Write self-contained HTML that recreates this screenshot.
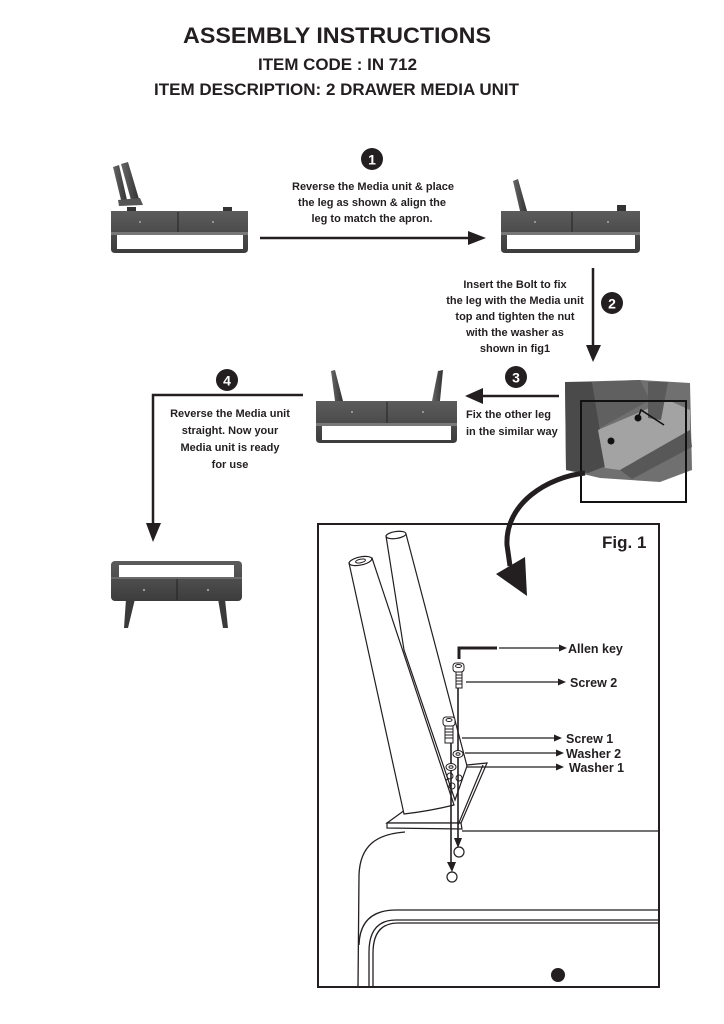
<!DOCTYPE html>
<html>
<head>
<meta charset="utf-8">
<style>
html,body{margin:0;padding:0;background:#fff;}
svg{display:block;}
text{font-family:"Liberation Sans",Arial,sans-serif;font-weight:bold;fill:#231f20;}
.st{font-size:11px;}
.lbl{font-size:12.5px;}
</style>
</head>
<body>
<svg width="724" height="1024" viewBox="0 0 724 1024" xmlns="http://www.w3.org/2000/svg">
<defs>
<linearGradient id="wood" x1="0" y1="0" x2="0" y2="1">
<stop offset="0" stop-color="#5c5c5c"/>
<stop offset="1" stop-color="#3c3c3c"/>
</linearGradient>
<linearGradient id="leg" x1="0" y1="0" x2="1" y2="0">
<stop offset="0" stop-color="#666"/>
<stop offset="1" stop-color="#333"/>
</linearGradient>
</defs>
<rect width="724" height="1024" fill="#fff"/>

<!-- Titles -->
<text x="183" y="43" font-size="22" textLength="308" lengthAdjust="spacingAndGlyphs">ASSEMBLY INSTRUCTIONS</text>
<text x="258" y="70" font-size="17" textLength="159" lengthAdjust="spacingAndGlyphs">ITEM CODE : IN 712</text>
<text x="154" y="95" font-size="17" textLength="365" lengthAdjust="spacingAndGlyphs">ITEM DESCRIPTION: 2 DRAWER MEDIA UNIT</text>

<!-- ===== Step 1 ===== -->
<!-- left unit -->
<g>
<polygon points="113,167 119,165 127,200 121,200" fill="url(#leg)"/>
<polygon points="121,164 128,162 139,199 131,200" fill="url(#leg)"/>
<polygon points="118,200 140,198 143,205 119,206" fill="#555"/>
<rect x="127" y="207" width="9" height="5" fill="#333"/>
<rect x="223" y="207" width="9" height="5" fill="#333"/>
<path d="M111 211 H248 V249 Q248 253 244 253 H115 Q111 253 111 249 Z" fill="url(#wood)"/>
<rect x="111" y="232" width="137" height="3" fill="#777"/>
<rect x="117" y="235" width="126" height="14" fill="#fff"/>
<line x1="178" y1="212" x2="178" y2="232" stroke="#222" stroke-width="1"/>
<circle cx="140" cy="222" r="1" fill="#aaa"/>
<circle cx="213" cy="222" r="1" fill="#aaa"/>
</g>
<!-- arrow 1 -->
<line x1="260" y1="238" x2="472" y2="238" stroke="#231f20" stroke-width="2.5"/>
<polygon points="468,231 486,238 468,245" fill="#231f20"/>
<circle cx="372" cy="159" r="11" fill="#231f20"/>
<text x="372" y="164.5" font-size="14" text-anchor="middle" style="fill:#fff">1</text>
<text class="st" x="373" y="190" text-anchor="middle">Reverse the Media unit &amp; place</text>
<text class="st" x="372" y="206" text-anchor="middle">the leg as shown &amp; align the</text>
<text class="st" x="372" y="222" text-anchor="middle">leg to match the apron.</text>
<!-- right unit -->
<g>
<polygon points="513,181 518,179 527,211 520,211" fill="url(#leg)"/>
<rect x="617" y="205" width="9" height="6" fill="#333"/>
<path d="M501 211 H640 V249 Q640 253 636 253 H505 Q501 253 501 249 Z" fill="url(#wood)"/>
<rect x="501" y="232" width="139" height="3" fill="#777"/>
<rect x="507" y="235" width="128" height="14" fill="#fff"/>
<line x1="572" y1="212" x2="572" y2="232" stroke="#222" stroke-width="1"/>
<circle cx="535" cy="222" r="1" fill="#aaa"/>
<circle cx="608" cy="222" r="1" fill="#aaa"/>
</g>

<!-- ===== Step 2 ===== -->
<line x1="593" y1="268" x2="593" y2="348" stroke="#231f20" stroke-width="2.5"/>
<polygon points="586,345 601,345 593,362" fill="#231f20"/>
<circle cx="612" cy="303" r="11" fill="#231f20"/>
<text x="612" y="308.5" font-size="14" text-anchor="middle" style="fill:#fff">2</text>
<text class="st" x="515" y="288" text-anchor="middle">Insert the Bolt to fix</text>
<text class="st" x="515" y="304" text-anchor="middle">the leg with the Media unit</text>
<text class="st" x="515" y="320" text-anchor="middle">top and tighten the nut</text>
<text class="st" x="515" y="336" text-anchor="middle">with the washer as</text>
<text class="st" x="515" y="352" text-anchor="middle">shown in fig1</text>

<!-- photo -->
<g>
<polygon points="565,382 640,380 690,383 692,470 660,482 600,478 566,470" fill="#707070"/>
<polygon points="565,382 592,382 606,466 588,473 566,470" fill="#4a4a4a"/>
<polygon points="592,382 640,380 650,400 600,428" fill="#606060"/>
<polygon points="598,430 668,400 690,410 690,430 620,470 605,468" fill="#a3a3a3"/>
<polygon points="620,470 690,430 692,447 632,479" fill="#585858"/>
<polygon points="648,382 668,382 661,420 648,418" fill="#5a5a5a"/>
<circle cx="611" cy="441" r="3.5" fill="#111"/>
<circle cx="638" cy="418" r="3.5" fill="#111"/>
<polyline points="638,418 641,410 664,425" fill="none" stroke="#111" stroke-width="1.6"/>
</g>
<rect x="581" y="401" width="105" height="101" fill="none" stroke="#111" stroke-width="2"/>
<!-- curved arrow -->
<path d="M585 473 C548 477 505 503 507 545 L510 566" fill="none" stroke="#231f20" stroke-width="5"/>
<polygon points="496,574 525,557 527,596" fill="#231f20"/>

<!-- ===== Step 3 ===== -->
<line x1="559" y1="396" x2="478" y2="396" stroke="#231f20" stroke-width="2.5"/>
<polygon points="483,388 483,404 465,396" fill="#231f20"/>
<circle cx="516" cy="377" r="11" fill="#231f20"/>
<text x="516" y="382.5" font-size="14" text-anchor="middle" style="fill:#fff">3</text>
<text class="st" x="466" y="418">Fix the other leg</text>
<text class="st" x="466" y="435">in the similar way</text>
<!-- mid unit -->
<g>
<polygon points="331,371 335,370 343,401 335,401" fill="url(#leg)"/>
<polygon points="438,371 443,370 440,401 432,401" fill="url(#leg)"/>
<path d="M316 401 H457 V439 Q457 443 453 443 H320 Q316 443 316 439 Z" fill="url(#wood)"/>
<rect x="316" y="423" width="141" height="3" fill="#777"/>
<rect x="322" y="426" width="129" height="14" fill="#fff"/>
<line x1="387" y1="402" x2="387" y2="423" stroke="#222" stroke-width="1"/>
<circle cx="352" cy="412" r="1" fill="#aaa"/>
<circle cx="423" cy="412" r="1" fill="#aaa"/>
</g>

<!-- ===== Step 4 ===== -->
<polyline points="303,395 153,395 153,528" fill="none" stroke="#231f20" stroke-width="2.5"/>
<polygon points="146,523 161,523 153,542" fill="#231f20"/>
<circle cx="227" cy="380" r="11" fill="#231f20"/>
<text x="227" y="385.5" font-size="14" text-anchor="middle" style="fill:#fff">4</text>
<text class="st" x="230" y="417" text-anchor="middle">Reverse the Media unit</text>
<text class="st" x="230" y="434" text-anchor="middle">straight. Now your</text>
<text class="st" x="230" y="451" text-anchor="middle">Media unit is ready</text>
<text class="st" x="230" y="468" text-anchor="middle">for use</text>
<!-- final unit -->
<g>
<polygon points="126,599 135,599 128,628 124,628" fill="#3a3a3a"/>
<polygon points="218,599 225,599 228,628 223,628" fill="#3a3a3a"/>
<rect x="111" y="561" width="131" height="40" rx="4" fill="url(#wood)"/>
<rect x="119" y="565" width="115" height="12" fill="#fff"/>
<rect x="111" y="577" width="131" height="2" fill="#6a6a6a"/>
<line x1="177" y1="579" x2="177" y2="600" stroke="#222" stroke-width="1"/>
<circle cx="144" cy="590" r="1" fill="#bbb"/>
<circle cx="208" cy="590" r="1" fill="#bbb"/>
</g>

<!-- ===== Fig 1 ===== -->
<rect x="318" y="524" width="341" height="463" fill="none" stroke="#231f20" stroke-width="2"/>
<text x="602" y="548" font-size="17">Fig. 1</text>

<!-- tabletop -->
<g fill="none" stroke="#231f20" stroke-width="1.3">
<line x1="462" y1="831" x2="659" y2="831"/>
<path d="M405 832 C376 834 360 846 359 875 L358 987"/>
<path d="M659 910 L396 910 Q360 910 359 945"/>
<path d="M659 920 L396 920 Q369 920 369 952 L369 987"/>
<path d="M659 923 L398 923 Q373 923 373 953 L373 987"/>
</g>
<circle cx="558" cy="975" r="7" fill="#231f20"/>

<!-- plate -->
<g stroke="#231f20" stroke-width="1.2" fill="#fff">
<polygon points="387,823 467,765 487,763 461,823"/>
<polygon points="387,823 461,823 462,829 387,828"/>
<line x1="483" y1="765" x2="458" y2="825"/>
</g>
<!-- leg B -->
<path d="M386 536 L406 534 L467 766 L455 800 L404 650 Z" fill="#fff" stroke="#231f20" stroke-width="1.2"/>
<ellipse cx="396" cy="535" rx="10" ry="3.5" transform="rotate(-8 396 535)" fill="#fff" stroke="#231f20" stroke-width="1.2"/>
<!-- leg A -->
<path d="M349 563 L372 558 L454 805 Q430 811 404 814 Z" fill="#fff" stroke="#231f20" stroke-width="1.2"/>
<ellipse cx="360.5" cy="561" rx="11.5" ry="4" transform="rotate(-12 360.5 561)" fill="#fff" stroke="#231f20" stroke-width="1.2"/>
<ellipse cx="360.5" cy="561" rx="5" ry="1.8" transform="rotate(-12 360.5 561)" fill="none" stroke="#231f20" stroke-width="1"/>
<!-- holes in leg base -->
<g fill="none" stroke="#231f20" stroke-width="1">
<circle cx="450" cy="776" r="3"/>
<circle cx="459" cy="778" r="3"/>
<circle cx="452" cy="786" r="3"/>
</g>

<!-- hardware lines -->
<line x1="458" y1="688" x2="458" y2="840" stroke="#231f20" stroke-width="1.6"/>
<polygon points="454,838 462,838 458,848" fill="#231f20"/>
<circle cx="459" cy="852" r="5" fill="#fff" stroke="#231f20" stroke-width="1.2"/>
<line x1="451" y1="743" x2="451" y2="864" stroke="#231f20" stroke-width="1.6"/>
<polygon points="447,862 456,862 452,872" fill="#231f20"/>
<circle cx="452" cy="877" r="5" fill="#fff" stroke="#231f20" stroke-width="1.2"/>

<!-- allen key -->
<polyline points="459,659 459,648 497,648" fill="none" stroke="#231f20" stroke-width="3"/>
<!-- screw 2 -->
<g stroke="#231f20" stroke-width="1" fill="#fff">
<rect x="453" y="663" width="11" height="9" rx="3"/>
<ellipse cx="458.5" cy="666" rx="3" ry="1.5"/>
<rect x="456" y="672" width="6" height="16"/>
<line x1="456" y1="675" x2="462" y2="675"/>
<line x1="456" y1="678" x2="462" y2="678"/>
<line x1="456" y1="681" x2="462" y2="681"/>
<line x1="456" y1="684" x2="462" y2="684"/>
</g>
<!-- screw 1 -->
<g stroke="#231f20" stroke-width="1" fill="#fff">
<rect x="443" y="717" width="12" height="9" rx="3"/>
<ellipse cx="449" cy="720" rx="3" ry="1.5"/>
<rect x="445" y="726" width="8" height="17"/>
<line x1="445" y1="729" x2="453" y2="729"/>
<line x1="445" y1="732" x2="453" y2="732"/>
<line x1="445" y1="735" x2="453" y2="735"/>
<line x1="445" y1="738" x2="453" y2="738"/>
</g>
<!-- washers -->
<g stroke="#231f20" stroke-width="1" fill="#fff">
<ellipse cx="458" cy="754" rx="5" ry="3.5"/>
<ellipse cx="458" cy="754" rx="2" ry="1.3"/>
<ellipse cx="451" cy="767" rx="5" ry="3.5"/>
<ellipse cx="451" cy="767" rx="2" ry="1.3"/>
</g>

<!-- label arrows -->
<g stroke="#231f20" stroke-width="1.3">
<line x1="499" y1="648" x2="561" y2="648"/>
<line x1="466" y1="682" x2="560" y2="682"/>
<line x1="462" y1="738" x2="556" y2="738"/>
<line x1="465" y1="753" x2="558" y2="753"/>
<line x1="467" y1="767" x2="558" y2="767"/>
</g>
<g fill="#231f20">
<polygon points="559,644.5 567,648 559,651.5"/>
<polygon points="558,678.5 566,682 558,685.5"/>
<polygon points="554,734.5 562,738 554,741.5"/>
<polygon points="556,749.5 564,753 556,756.5"/>
<polygon points="556,763.5 564,767 556,770.5"/>
</g>
<text class="lbl" x="568" y="653">Allen key</text>
<text class="lbl" x="570" y="687">Screw 2</text>
<text class="lbl" x="566" y="743">Screw 1</text>
<text class="lbl" x="566" y="758">Washer 2</text>
<text class="lbl" x="569" y="772">Washer 1</text>
</svg>
</body>
</html>
